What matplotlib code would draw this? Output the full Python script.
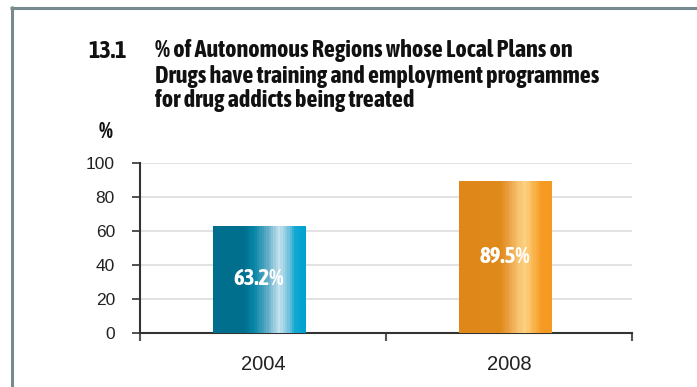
import matplotlib
matplotlib.use("Agg")
import matplotlib.pyplot as plt
import numpy as np
from matplotlib.colors import LinearSegmentedColormap
from matplotlib.lines import Line2D
from matplotlib import font_manager
import matplotlib.patheffects as pe

categories = ["2004", "2008"]
values = [63.2, 89.5]
value_labels = ["63.2%", "89.5%"]
yticks = [0, 20, 40, 60, 80, 100]
title_num = "13.1"
title_lines = ["% of Autonomous Regions whose Local Plans on",
               "Drugs have training and employment programmes",
               "for drug addicts being treated"]


def _w(v):
    try:
        return int(v)
    except Exception:
        return 700 if "bold" in str(v).lower() else 400


entries = font_manager.fontManager.ttflist
cond_bold = sorted({f.name for f in entries
                    if ("Condensed" in f.name or "Narrow" in f.name) and _w(f.weight) >= 600})
cond_any = sorted({f.name for f in entries if ("Condensed" in f.name or "Narrow" in f.name)})
pref = [n for n in cond_bold if "Liberation" in n] + cond_bold
if pref:
    narrow = [pref[0], "Liberation Sans", "DejaVu Sans"]
    fx = []
    fxw = []
else:
    narrow = cond_any[:1] + ["Liberation Sans", "DejaVu Sans"]
    fx = [pe.withStroke(linewidth=1.0, foreground="#111111")]
    fxw = [pe.withStroke(linewidth=1.0, foreground="white")]
regular = ["Liberation Sans", "DejaVu Sans"]
tsize = 17.4 if cond_any else 13.5

fig = plt.figure(figsize=(6.97, 3.87), dpi=100)
ax = fig.add_axes([140/697, 1-333/387, (632-140)/697, (333-163)/387])

grads = [
    [(0.0, "#006f8e"), (0.33, "#00708f"), (0.45, "#0a88a8"), (0.58, "#5aa9c4"),
     (0.72, "#c6e3ef"), (0.82, "#78c4de"), (0.9, "#10a8d2"), (1.0, "#00a2cf")],
    [(0.0, "#df8819"), (0.45, "#e08a1c"), (0.55, "#eca447"), (0.63, "#f6c06a"),
     (0.72, "#fdd282"), (0.82, "#fab24a"), (0.9, "#f69c26"), (1.0, "#f5991f")],
]

width = 0.374
x = np.arange(len(categories))
bars = ax.bar(x - 0.016, values, width=width, color="none", edgecolor="none", zorder=3)
for b, g, lab, v in zip(bars, grads, value_labels, values):
    cmap = LinearSegmentedColormap.from_list("g", g)
    grad = np.linspace(0, 1, 40).reshape(1, -1)
    x0 = b.get_x()
    im = ax.imshow(grad, cmap=cmap, aspect="auto", interpolation="nearest",
                   extent=[x0, x0 + b.get_width(), 0, b.get_height()], zorder=3)
    im.set_clip_path(b)
    ax.text(b.get_x() + b.get_width()/2, v/2, lab, ha="center", va="center",
            color="white", fontsize=16.5 if cond_any else 12.5, fontweight="bold",
            family=narrow, zorder=4, path_effects=fxw)

ax.set_xlim(-0.5, 1.5)
ax.set_ylim(0, 100)
ax.set_yticks(yticks)
ax.set_yticklabels([str(t) for t in yticks], family=regular, fontsize=12.5, color="#222222")
ax.set_xticks(x)
ax.set_xticklabels(categories, family=regular, fontsize=14.5, color="#222222")
ax.tick_params(axis="x", length=0, pad=16)
ax.set_xticks([-0.5, 0.5, 1.5], minor=True)
ax.tick_params(axis="x", which="minor", length=6, width=1.5, color="#555555")
ax.tick_params(axis="y", length=6, width=1.2, color="#333333", pad=12)
ax.grid(axis="y", color="#dddddd", linewidth=1.2, zorder=0)
ax.set_axisbelow(True)
for s in ["top", "right"]:
    ax.spines[s].set_visible(False)
ax.spines["left"].set_color("#333333")
ax.spines["left"].set_linewidth(1.5)
ax.spines["bottom"].set_color("#333333")
ax.spines["bottom"].set_linewidth(1.5)

# percent label
fig.text(113/697, 1-132/387, "%", ha="right", va="center", fontsize=16,
         fontweight="bold", family=narrow, color="#111111", path_effects=fx)

# title
fig.text(88/697, 1-51/387, title_num, ha="left", va="center", fontsize=tsize,
         fontweight="bold", family=narrow, color="#111111", path_effects=fx)
for i, line in enumerate(title_lines):
    fig.text(155/697, 1-(51 + 25*i)/387, line, ha="left", va="center", fontsize=tsize,
             fontweight="bold", family=narrow, color="#111111", path_effects=fx)

# frame
fig.add_artist(Line2D([11.5/697, 11.5/697], [0, 1-6/387], transform=fig.transFigure,
                      color="#778a90", linewidth=2.2, solid_capstyle="butt"))
fig.add_artist(Line2D([10/697, 1], [1-7.5/387, 1-7.5/387], transform=fig.transFigure,
                      color="#778a90", linewidth=2.2, solid_capstyle="butt"))

fig.savefig("out.png", dpi=100)
